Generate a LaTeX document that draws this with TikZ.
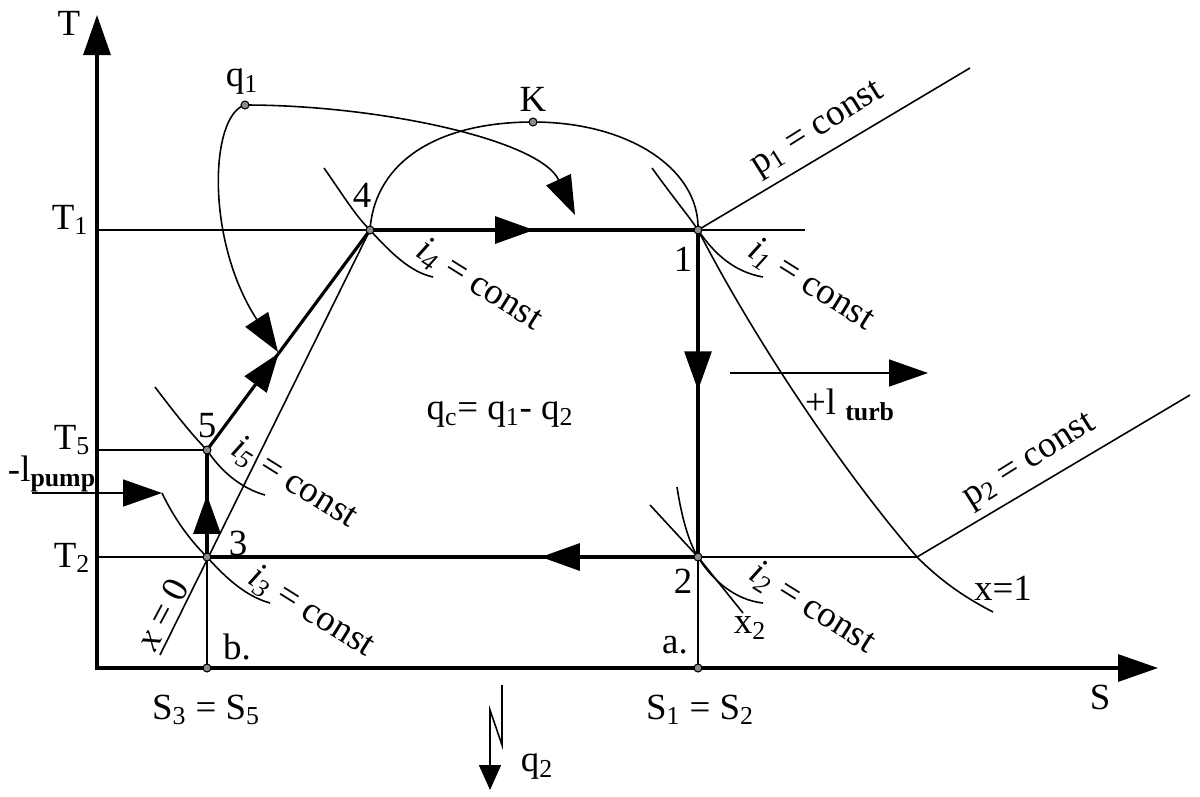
\documentclass[tikz,border=0pt]{standalone}
\usepackage{fontspec}
\setmainfont{Liberation Serif}
\usetikzlibrary{arrows.meta,decorations.markings,positioning,calc}
\tikzset{
  axisline/.style = {line width=1.8pt},
  procline/.style = {line width=1.8pt},
  thinline/.style = {line width=0.9pt},
  bigarr/.style   = {-{Triangle[length=0.78cm,width=0.54cm]}},
  smallarr/.style = {-{Triangle[length=0.5cm,width=0.44cm]}},
  midarr/.style   = {postaction={decorate}, decoration={markings,
                     mark=at position #1 with {\arrow{Triangle[length=0.78cm,width=0.54cm]}}}},
  dot/.style      = {circle, draw=black, fill=black!45, line width=0.6pt,
                     inner sep=0pt, minimum size=0.16cm},
  lbl/.style      = {font=\fontsize{21}{25}\selectfont, inner sep=1pt},
  clbl/.style     = {lbl, rotate=-32},
  plbl/.style     = {lbl, rotate=32},
}
\begin{document}
\begin{tikzpicture}[x=0.02cm, y=-0.02cm]
\useasboundingbox (0,0) rectangle (1200,796);

%% State points
\coordinate (O)     at (97,668);
\coordinate (Ttip)  at (97,15);
\coordinate (Stip)  at (1158,668);
\coordinate (p4)    at (370,230);
\coordinate (p1)    at (698,230);
\coordinate (p2)    at (698,557);
\coordinate (p3)    at (207,557);
\coordinate (p5)    at (207,450);
\coordinate (pb)    at (207,668);
\coordinate (pa)    at (698,668);
\coordinate (K)     at (533,122);
\coordinate (q1)    at (245,105);

%% Ends of the helper lines
\coordinate (T1l)   at (97,230);
\coordinate (T1r)   at (805,230);
\coordinate (T5l)   at (97,450);
\coordinate (T2l)   at (97,557);
\coordinate (T2r)   at (917,557);
\coordinate (p1end) at (970,68);
\coordinate (p2end) at (1190,395);
\coordinate (x0beg) at (160,655);
\coordinate (x1end) at (993,612);
\coordinate (turbA) at (730,373);
\coordinate (turbB) at (928,373);
\coordinate (pumpA) at (32,493);
\coordinate (pumpB) at (162,493);
\coordinate (qA)    at (502,685);
\coordinate (qB)    at (502,745);
\coordinate (qC)    at (490,710);
\coordinate (qD)    at (490,790);

%% Axes
\draw[axisline, {Triangle[length=0.8cm,width=0.54cm]}-{Triangle[length=0.8cm,width=0.54cm]}]
  (Ttip) -- (O) -- (Stip);

%% Isotherms and verticals
\draw[thinline] (T1l) -- (T1r);
\draw[thinline] (T5l) -- (p5);
\draw[thinline] (T2l) -- (T2r);
\draw[thinline] (pb) -- (p3);
\draw[thinline] (p2) -- (pa);

%% Cycle
\draw[procline, midarr=0.5]  (p4) -- (p1);
\draw[procline, midarr=0.49] (p1) -- (p2);
\draw[procline, midarr=0.32] (p2) -- (p3);
\draw[procline, midarr=0.58] (p3) -- (p5);
\draw[procline, midarr=0.44] (p5) -- (p4);

%% Saturation lines and isobars
\draw[thinline] (x0beg) -- (p4);
\draw[thinline] (p4) .. controls (375,160) and (440,122) .. (K)
                     .. controls (630,122) and (700,170) .. (p1);
\draw[thinline] (p1) .. controls (760,350) and (850,480) .. (T2r)
                     .. controls (945,585) and (970,600) .. (x1end);
\draw[thinline] (p1) -- (p1end);
\draw[thinline] (T2r) -- (p2end);

%% Constant enthalpy lines
\draw[thinline] (324,168) .. controls (345,198) and (355,215) .. (p4)
                          .. controls (390,252) and (410,272) .. (433,277);
\draw[thinline] (652,168) .. controls (675,200) and (688,215) .. (p1)
                          .. controls (715,255) and (735,272) .. (763,277);
\draw[thinline] (155,387) .. controls (180,420) and (195,438) .. (p5)
                          .. controls (220,470) and (240,488) .. (265,495);
\draw[thinline] (pumpB)   .. controls (175,520) and (190,540) .. (p3)
                          .. controls (225,577) and (245,596) .. (270,603);
\draw[thinline] (677,487) .. controls (682,520) and (690,545) .. (p2)
                          .. controls (712,580) and (735,600) .. (763,603);
\draw[thinline] (650,505) -- (p2) -- (743,613);

%% Heat and work arrows
\draw[thinline, bigarr] (q1) .. controls (380,105) and (540,140) .. (575,215);
\draw[thinline, bigarr] (q1) .. controls (210,115) and (205,240) .. (278,352);
\draw[thinline, bigarr] (turbA) -- (turbB);
\draw[thinline, bigarr] (pumpA) -- (pumpB);
\draw[thinline, smallarr] (qA) -- (qB) -- (qC) -- (qD);

%% Dots
\foreach \p in {q1,K,p4,p1,p2,p3,p5,pa,pb}
  \node[dot] (d-\p) at (\p) {};

%% Labels
\node[lbl] (lT)   at (69,23)   {T};
\node[lbl] (lT1)  at (70,220)  {T\textsubscript{1}};
\node[lbl] (lT5)  at (72,440)  {T\textsubscript{5}};
\node[lbl] (lT2)  at (72,558)  {T\textsubscript{2}};
\node[lbl] (lpump) at (52,474) {-l\textsubscript{\textbf{pump}}};
\node[lbl] (lS)   at (1100,697) {S};
\node[lbl] (lS35) at (206,710) {S\textsubscript{3} = S\textsubscript{5}};
\node[lbl] (lS12) at (700,710) {S\textsubscript{1} = S\textsubscript{2}};
\node[lbl] (lb)   at (237,647) {b.};
\node[lbl] (la)   at (675,645) {a.};
\node[lbl] (l1)   at (683,259) {1};
\node[lbl] (l2)   at (683,581) {2};
\node[lbl] (l3)   at (238,543) {3};
\node[lbl] (l4)   at (362,195) {4};
\node[lbl] (l5)   at (207,426) {5};
\node[lbl] (lK)   at (533,99)  {K};
\node[lbl] (lq1)  at (242,82)  {q\textsubscript{1}};
\node[lbl] (lqc)  at (500,415) {q\textsubscript{c}= q\textsubscript{1}- q\textsubscript{2}};
\node[lbl] (lturb) at (850,405) {+l \textsubscript{\textbf{turb}}};
\node[lbl] (lq2)  at (537,767) {q\textsubscript{2}};
\node[lbl] (lx2)  at (750,628) {x\textsubscript{2}};
\node[lbl] (lx1)  at (1003,588) {x=1};
\node[lbl, rotate=62] (lx0) at (162,614) {\textit{x} = 0};

\node[clbl] (li4) at (479,285) {\textit{i}\textsubscript{\textit{4}} = const};
\node[clbl] (li1) at (811,285) {\textit{i}\textsubscript{\textit{1}} = const};
\node[clbl] (li5) at (294,483) {\textit{i}\textsubscript{\textit{5}} = const};
\node[clbl] (li3) at (311,612) {\textit{i}\textsubscript{\textit{3}} = const};
\node[clbl] (li2) at (812,608) {\textit{i}\textsubscript{\textit{2}} = const};
\node[plbl] (lp1) at (818,130) {p\textsubscript{1} = const};
\node[plbl] (lp2) at (1030,462) {p\textsubscript{2} = const};

\end{tikzpicture}
\end{document}
